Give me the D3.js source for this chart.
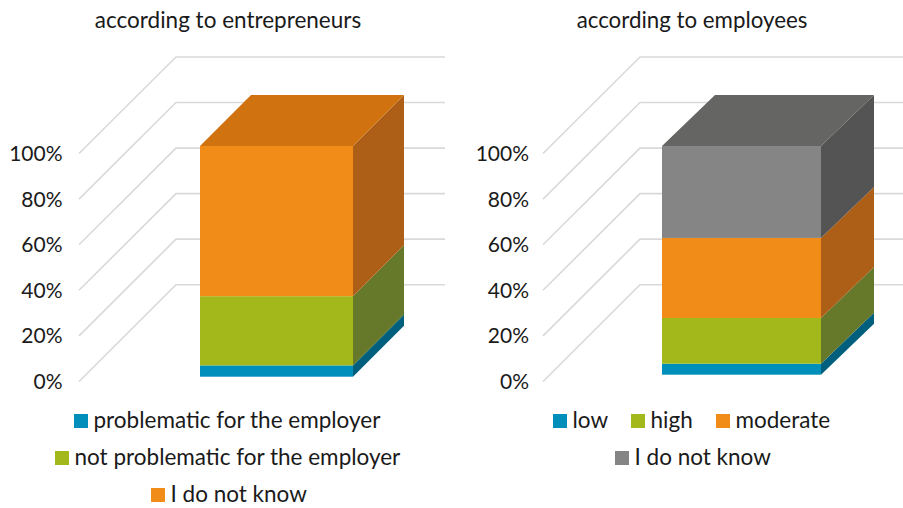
<!DOCTYPE html>
<html><head><meta charset="utf-8">
<script src="https://cdn.jsdelivr.net/npm/d3@7"></script>
<style>html,body{margin:0;padding:0;background:#fff}svg{display:block}text{font-family:Lato,"Open Sans",sans-serif;fill:#1a1a1a}</style>
</head><body><div id="c"></div>
<script>
const axisTicks = [0, 0.2, 0.4, 0.6, 0.8, 1];

const titleA = "according to entrepreneurs";
const seriesA = ["problematic for the employer", "not problematic for the employer", "I do not know"];
const valuesA = [4.9, 30, 65.1];
const coloursA = ["blue", "green", "orange"];

const titleB = "according to employees";
const seriesB = ["low", "high", "moderate", "I do not know"];
const valuesB = [4.8, 20, 35, 40.2];
const coloursB = ["blue", "green", "orange", "grey"];

const palette = {
  blue:   {front:"#008FBA", side:"#005F7C", top:"#00799E"},
  green:  {front:"#A2B81B", side:"#66782A", top:"#8A9C17"},
  orange: {front:"#F28C18", side:"#AE5F17", top:"#D07210"},
  grey:   {front:"#858585", side:"#545454", top:"#656563"}
};

const svg = d3.select("#c").append("svg").attr("width",903).attr("height",508);

function chart(o){
  const g = svg.append("g");
  g.append("text").attr("x",o.titleX).attr("y",28).attr("text-anchor","middle")
    .attr("font-size",o.titleSize).text(o.title);

  // gridlines: floor-depth skew plus back wall
  const yFront = d3.scaleLinear().domain([0,1]).range([381.5,153.5]);
  const yBack  = d3.scaleLinear().domain([0,1]).range([284.7,57]);
  g.selectAll("path.grid").data(axisTicks).join("path").attr("class","grid")
    .attr("d",t=>d3.line()([[o.gridL,yFront(t)],[o.gridL+97,yBack(t)],[o.gridR,yBack(t)]]))
    .attr("fill","none").attr("stroke","#D9D9D9").attr("stroke-width",1.6);

  // axis labels
  const fmt = d3.format(".0%");
  g.selectAll("text.tick").data(axisTicks).join("text").attr("class","tick")
    .attr("x",o.tickX).attr("y",t=>yFront(t)+7.5).attr("text-anchor","end")
    .attr("font-size",21).text(fmt);

  // stacked oblique bar
  const x = d3.scaleLinear().domain([0,1]).range(o.barX);
  const y = d3.scaleLinear().domain([0,100]).range([o.barBottom,146]);
  const dx = o.depthX, dy = -51;
  let acc = 0;
  const segs = o.values.map((v,i)=>{const s={a:acc,b:acc+v,c:palette[o.colours[i]]};acc+=v;return s;});
  const line = d3.line();
  segs.forEach((s,i)=>{
    g.append("path").attr("d",line([[x(1),y(s.a)],[x(1)+dx,y(s.a)+dy],[x(1)+dx,y(s.b)+dy],[x(1),y(s.b)]])+"Z").attr("fill",s.c.side);
    g.append("rect").attr("x",x(0)).attr("width",x(1)-x(0)).attr("y",y(s.b)).attr("height",y(s.a)-y(s.b)).attr("fill",s.c.front);
    if(i===segs.length-1)
      g.append("path").attr("d",line([[x(0),y(s.b)],[x(1),y(s.b)],[x(1)+dx,y(s.b)+dy],[x(0)+dx,y(s.b)+dy]])+"Z").attr("fill",s.c.top);
  });

  // legend
  o.legend.forEach((row,r)=>{
    row.forEach(item=>{
      const i = item[0], sx = item[1];
      const ly = 414 + r*37;
      g.append("rect").attr("x",sx).attr("y",ly).attr("width",14).attr("height",14).attr("fill",palette[o.colours[i]].front);
      g.append("text").attr("x",sx+19.5).attr("y",ly+14).attr("font-size",o.legendSize).text(o.series[i]);
    });
  });
}

chart({title:titleA,titleX:228,titleSize:22.5,series:seriesA,values:valuesA,colours:coloursA,
  gridL:79,gridR:445,tickX:62.5,barX:[200,353],barBottom:376.7,depthX:51,legendSize:22.5,
  legend:[[[0,74]],[[1,55]],[[2,151]]]});
chart({title:titleB,titleX:692,titleSize:22.3,series:seriesB,values:valuesB,colours:coloursB,
  gridL:543,gridR:903,tickX:529,barX:[662,821],barBottom:374.7,depthX:53,legendSize:22.5,
  legend:[[[0,553],[1,631],[2,716]],[[3,615]]]});
</script></body></html>
